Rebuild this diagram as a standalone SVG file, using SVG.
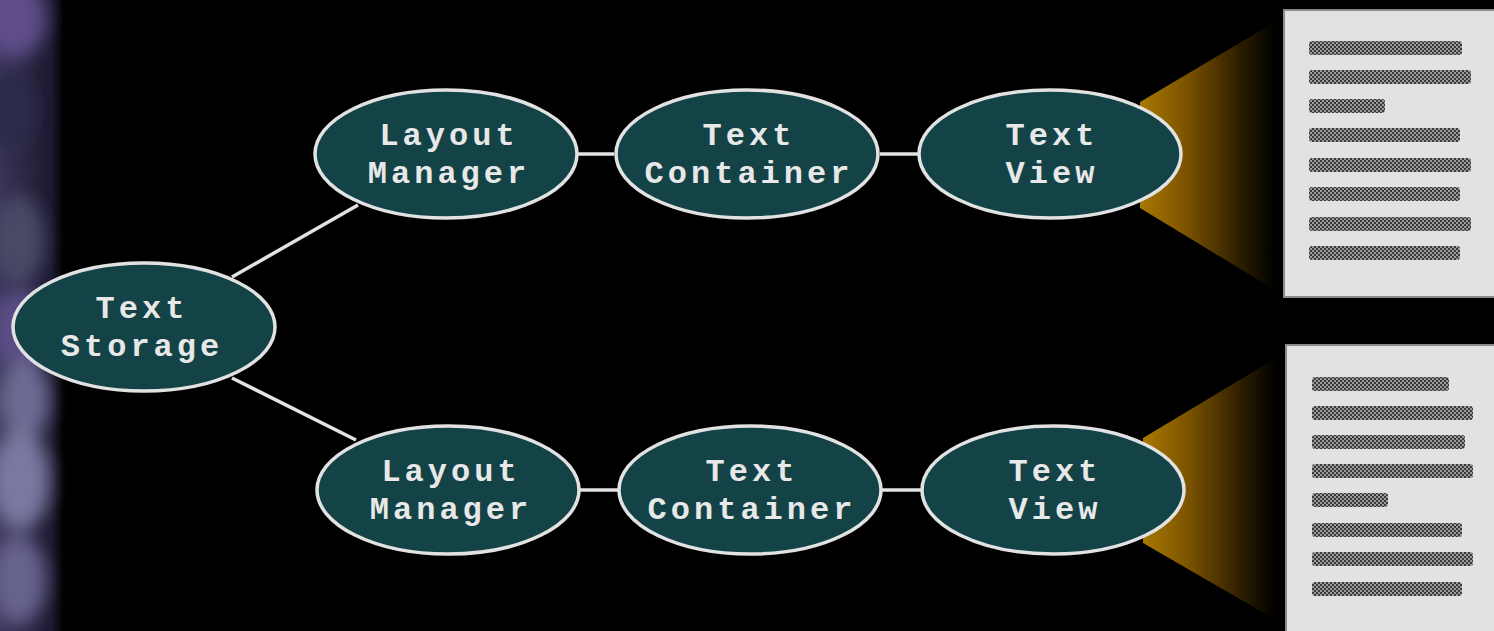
<svg xmlns="http://www.w3.org/2000/svg" width="1494" height="631" viewBox="0 0 1494 631">
<style>
.node ellipse{fill:#134347;stroke:#e2e2e2;stroke-width:3.5}
.node text{font-family:"Liberation Mono","DejaVu Sans Mono",monospace;font-weight:bold;font-size:32px;letter-spacing:4px;fill:#e8e8e8;text-anchor:middle}
.conn line{stroke:#e2e2e2;stroke-width:3.5}
.page{fill:#e2e2e2;stroke:#8a8a8a;stroke-width:2}
.ln{fill:url(#dither)}
</style>
<defs>
<pattern id="dither" width="4" height="4" patternUnits="userSpaceOnUse">
<rect width="4" height="4" fill="#9a9a9a"/>
<rect width="2" height="2" fill="#3a3a3a"/>
<rect x="2" y="2" width="2" height="2" fill="#3a3a3a"/>
</pattern>
<linearGradient id="cone" x1="0" y1="0" x2="1" y2="0">
<stop offset="0" stop-color="#a87800"/>
<stop offset="0.35" stop-color="#7a5200"/>
<stop offset="0.75" stop-color="#2a1c00"/>
<stop offset="1" stop-color="#000"/>
</linearGradient>
<linearGradient id="strip" x1="0" y1="0" x2="1" y2="0">
<stop offset="0" stop-color="#3a3458"/>
<stop offset="0.8" stop-color="#1c1a30"/>
<stop offset="1" stop-color="#000"/>
</linearGradient>
<filter id="blur" x="-50%" y="-50%" width="200%" height="200%"><feGaussianBlur stdDeviation="9"/></filter>
</defs>
<rect width="1494" height="631" fill="#000"/>
<g id="background-strip">
<rect x="0" y="0" width="64" height="631" fill="url(#strip)"/>
<g filter="url(#blur)">
<ellipse cx="14" cy="18" rx="32" ry="40" fill="#5e4e8a"/>
<ellipse cx="10" cy="110" rx="22" ry="40" fill="#2a2a4a"/>
<ellipse cx="18" cy="240" rx="26" ry="45" fill="#4a4a66"/>
<ellipse cx="20" cy="330" rx="30" ry="40" fill="#5a4e86"/>
<ellipse cx="24" cy="400" rx="26" ry="40" fill="#6c6a92"/>
<ellipse cx="20" cy="480" rx="30" ry="50" fill="#7a78a0"/>
<ellipse cx="18" cy="580" rx="28" ry="45" fill="#66628e"/>
</g>
</g>
<g id="cones">
<polygon points="1140,102 1275,22 1275,290 1140,208" fill="url(#cone)"/>
<polygon points="1143,438 1276,358 1276,620 1143,543" fill="url(#cone)"/>
</g>
<g id="connectors" class="conn">
<line x1="232" y1="277" x2="358" y2="205"/>
<line x1="232" y1="378" x2="356" y2="440"/>
<line x1="578" y1="154" x2="614" y2="154"/>
<line x1="880" y1="154" x2="918" y2="154"/>
<line x1="580" y1="490" x2="618" y2="490"/>
<line x1="882" y1="490" x2="921" y2="490"/>
</g>
<g id="text-storage" class="node">
<ellipse cx="144" cy="327" rx="131" ry="64"/>
<text x="142" y="318">Text</text>
<text x="142" y="356">Storage</text>
</g>
<g id="layout-manager-1" class="node">
<ellipse cx="446" cy="154" rx="131" ry="64"/>
<text x="449" y="145">Layout</text>
<text x="449" y="183">Manager</text>
</g>
<g id="text-container-1" class="node">
<ellipse cx="747" cy="154" rx="131" ry="64"/>
<text x="749" y="145">Text</text>
<text x="749" y="183">Container</text>
</g>
<g id="text-view-1" class="node">
<ellipse cx="1050" cy="154" rx="131" ry="64"/>
<text x="1052" y="145">Text</text>
<text x="1052" y="183">View</text>
</g>
<g id="layout-manager-2" class="node">
<ellipse cx="448" cy="490" rx="131" ry="64"/>
<text x="451" y="481">Layout</text>
<text x="451" y="519">Manager</text>
</g>
<g id="text-container-2" class="node">
<ellipse cx="750" cy="490" rx="131" ry="64"/>
<text x="752" y="481">Text</text>
<text x="752" y="519">Container</text>
</g>
<g id="text-view-2" class="node">
<ellipse cx="1053" cy="490" rx="131" ry="64"/>
<text x="1055" y="481">Text</text>
<text x="1055" y="519">View</text>
</g>
<g id="page-1">
<rect class="page" x="1284" y="10" width="220" height="287"/>
<rect class="ln" x="1309" y="41" width="153" height="14" rx="3"/>
<rect class="ln" x="1309" y="70" width="162" height="14" rx="3"/>
<rect class="ln" x="1309" y="99" width="76" height="14" rx="3"/>
<rect class="ln" x="1309" y="128" width="151" height="14" rx="3"/>
<rect class="ln" x="1309" y="158" width="162" height="14" rx="3"/>
<rect class="ln" x="1309" y="187" width="151" height="14" rx="3"/>
<rect class="ln" x="1309" y="217" width="162" height="14" rx="3"/>
<rect class="ln" x="1309" y="246" width="151" height="14" rx="3"/>
</g>
<g id="page-2">
<rect class="page" x="1286" y="345" width="220" height="300"/>
<rect class="ln" x="1312" y="377" width="137" height="14" rx="3"/>
<rect class="ln" x="1312" y="406" width="161" height="14" rx="3"/>
<rect class="ln" x="1312" y="435" width="153" height="14" rx="3"/>
<rect class="ln" x="1312" y="464" width="161" height="14" rx="3"/>
<rect class="ln" x="1312" y="493" width="76" height="14" rx="3"/>
<rect class="ln" x="1312" y="523" width="150" height="14" rx="3"/>
<rect class="ln" x="1312" y="552" width="161" height="14" rx="3"/>
<rect class="ln" x="1312" y="582" width="150" height="14" rx="3"/>
</g>
</svg>
